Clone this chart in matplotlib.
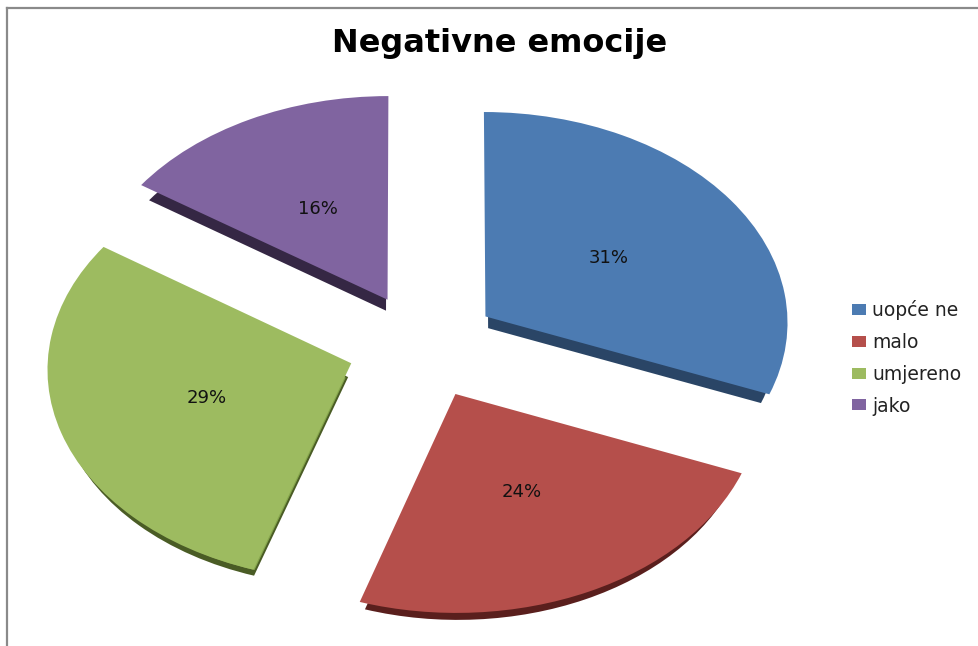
import numpy as np
import matplotlib
matplotlib.use("Agg")
import matplotlib.pyplot as plt
from matplotlib.lines import Line2D
from matplotlib.patches import Patch
from matplotlib.transforms import Transform

title = "Negativne emocije"
categories = ["uopće ne", "malo", "umjereno", "jako"]
values = [31, 24, 29.4, 15.6]
top_colors = ["#4C7BB2", "#B54F4B", "#9DBB60", "#8064A0"]
side_colors = ["#2A4566", "#5A1F1D", "#4A5C25", "#352744"]
green_side = "#86A64C"

W, H = 979, 646
fig = plt.figure(figsize=(W / 100, H / 100), dpi=100, facecolor="white")
ax = fig.add_axes([0, 0, 1, 1])

RX, RY = 303.0, 211.0   # pixel radii of the tilted pie
CX, CY = 423.0, 346.0   # pixel centre of the pie
EXPL = 0.25
DEPTH = 13.0
SHRINK = 0.96
KV = 0.025              # perspective strength


class Perspective(Transform):
    """Tilts the flat pie: the far side shrinks, the near side grows."""
    input_dims = output_dims = 2

    def transform_non_affine(self, values):
        values = np.asarray(values, float)
        d = 1 + KV * values[:, 1]
        return np.column_stack([values[:, 0] / d, values[:, 1] / d])


# extruded side: darker copy below the top face
under, _ = ax.pie(values, colors=side_colors, startangle=90, counterclock=False,
                  explode=[EXPL / SHRINK] * 4, radius=SHRINK,
                  center=(0, -DEPTH / RY), wedgeprops=dict(linewidth=0))
# lighter radial side of the green slice
inner_r = 0.93
inner, _ = ax.pie(values, colors=[green_side] * 4, startangle=90, counterclock=False,
                  explode=[EXPL / inner_r] * 4, radius=inner_r,
                  center=(0, -DEPTH / RY), wedgeprops=dict(linewidth=0))
for i, w in enumerate(inner):
    w.set_visible(i == 2)
# top face
wedges, texts, autotexts = ax.pie(
    values, colors=top_colors, startangle=90, counterclock=False,
    explode=[EXPL] * 4, radius=1, autopct="%.0f%%", pctdistance=0.5,
    wedgeprops=dict(linewidth=0),
    textprops=dict(fontsize=13, color="#111111", family="DejaVu Sans"))

ax.set_aspect("auto")
ax.set_xlim(-CX / RX, (W - CX) / RX)
ax.set_ylim((CY - H) / RY, CY / RY)
ax.set_axis_off()

persp = Perspective() + ax.transData
for w in list(under) + list(inner) + list(wedges):
    w.set_transform(persp)
for t in autotexts:
    t.set_transform(persp)

fig.text(499.5 / W, 1 - 52 / H, title, ha="center", va="baseline",
         fontsize=23, fontweight="bold", family="DejaVu Sans", color="black")

handles = [Patch(facecolor=c, edgecolor="none") for c in top_colors]
fig.legend(handles, categories, loc="upper left",
           bbox_to_anchor=(848 / W, 1 - 296.5 / H), frameon=False,
           prop=dict(family="DejaVu Sans", size=13.5),
           handlelength=0.75, handleheight=0.53, handletextpad=0.33,
           labelspacing=0.68, borderpad=0.2, borderaxespad=0, labelcolor="#222222")

# chart border (left and top edges only are visible)
for xs, ys in (((7, 7), (8, H)), ((7, W), (8, 8))):
    fig.add_artist(Line2D([x / W for x in xs], [1 - y / H for y in ys],
                          color="#8a8a8a", linewidth=1.6))

fig.savefig("out.png", dpi=100, facecolor="white")
